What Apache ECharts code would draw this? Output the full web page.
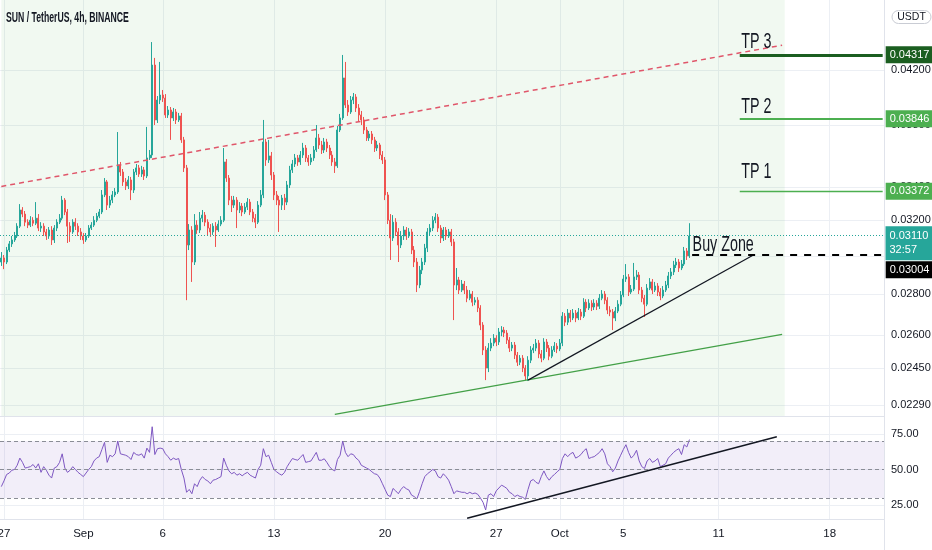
<!DOCTYPE html>
<html><head><meta charset="utf-8">
<script src="https://cdn.jsdelivr.net/npm/echarts@6/dist/echarts.min.js"></script>
<style>html,body{margin:0;padding:0;background:#fff}#chart{width:932px;height:550px}</style>
</head><body><div id="chart"></div>
<script>
// ---- time slots (4h candles) ----
const firstSlotTime = '2021-08-26T20:00:00Z';
const slotHours = 4;
const slotCount = 334;
const tickDays = ['2021-08-27','2021-09-01','2021-09-06','2021-09-13','2021-09-20','2021-09-27','2021-10-01','2021-10-05','2021-10-11','2021-10-18'];
const tickLabels = ['27','Sep','6','13','20','27','Oct','5','11','18'];

// ---- SUN / USDT 4h candles ----
const priceOpen = [
0.02967,0.02989,0.02967,0.03032,0.03066,0.03088,0.03110,0.03166,0.03260,0.03236,
0.03189,0.03172,0.03200,0.03183,0.03212,0.03155,0.03166,0.03133,0.03110,0.03144,
0.03088,0.03155,0.03189,0.03212,0.03319,0.03248,0.03166,0.03133,0.03189,0.03166,
0.03133,0.03110,0.03088,0.03110,0.03155,0.03172,0.03200,0.03224,0.03248,0.03350,
0.03430,0.03289,0.03319,0.03350,0.03368,0.03537,0.03492,0.03430,0.03405,0.03442,
0.03380,0.03492,0.03518,0.03479,0.03505,0.03467,0.03582,0.03601,0.04238,0.03837,
0.03978,0.04014,0.03992,0.03872,0.03907,0.03851,0.03893,0.03837,0.03865,0.03701,
0.03518,0.03060,0.03144,0.02967,0.03172,0.03144,0.03212,0.03230,0.03189,0.03155,
0.03133,0.03166,0.03144,0.03178,0.03200,0.03556,0.03454,0.03319,0.03289,0.03319,
0.03260,0.03283,0.03248,0.03277,0.03307,0.03248,0.03212,0.03189,0.03289,0.03350,
0.03687,0.03569,0.03595,0.03473,0.03350,0.03319,0.03289,0.03331,0.03307,0.03411,
0.03505,0.03543,0.03582,0.03556,0.03601,0.03647,0.03582,0.03556,0.03582,0.03634,
0.03714,0.03667,0.03634,0.03687,0.03647,0.03601,0.03556,0.03531,0.03768,0.03851,
0.04140,0.03942,0.03893,0.03978,0.04000,0.03921,0.03872,0.03837,0.03768,0.03714,
0.03741,0.03701,0.03647,0.03667,0.03601,0.03569,0.03350,0.03200,0.03099,0.03189,
0.03133,0.03060,0.03110,0.03144,0.03110,0.03133,0.03032,0.02967,0.02846,0.02924,
0.02967,0.03043,0.03133,0.03155,0.03200,0.03218,0.03155,0.03099,0.03144,0.03110,
0.03133,0.03077,0.02846,0.02872,0.02820,0.02851,0.02820,0.02779,0.02800,0.02759,
0.02769,0.02730,0.02647,0.02530,0.02449,0.02539,0.02562,0.02585,0.02567,0.02614,
0.02623,0.02609,0.02576,0.02539,0.02553,0.02507,0.02475,0.02493,0.02449,0.02414,
0.02484,0.02530,0.02539,0.02562,0.02512,0.02493,0.02567,0.02539,0.02502,0.02530,
0.02548,0.02535,0.02562,0.02690,0.02661,0.02705,0.02681,0.02705,0.02681,0.02710,
0.02690,0.02759,0.02730,0.02754,0.02735,0.02754,0.02739,0.02779,0.02800,0.02769,
0.02720,0.02710,0.02681,0.02715,0.02749,0.02795,0.02877,0.02888,0.02810,0.02825,
0.02888,0.02898,0.02820,0.02779,0.02749,0.02830,0.02862,0.02820,0.02841,0.02810,
0.02790,0.02820,0.02846,0.02893,0.02914,0.02951,0.02967,0.02935,0.02956,0.03027,
0.03000];
const priceClose = [
0.02989,0.02967,0.03032,0.03066,0.03088,0.03110,0.03166,0.03260,0.03236,0.03189,
0.03172,0.03200,0.03183,0.03212,0.03155,0.03166,0.03133,0.03110,0.03144,0.03088,
0.03155,0.03189,0.03212,0.03319,0.03248,0.03166,0.03133,0.03189,0.03166,0.03133,
0.03110,0.03088,0.03110,0.03155,0.03172,0.03200,0.03224,0.03248,0.03350,0.03430,
0.03289,0.03319,0.03350,0.03368,0.03537,0.03492,0.03430,0.03405,0.03442,0.03380,
0.03492,0.03518,0.03479,0.03505,0.03467,0.03582,0.03601,0.04238,0.03837,0.03978,
0.04014,0.03992,0.03872,0.03907,0.03851,0.03893,0.03837,0.03865,0.03701,0.03518,
0.03060,0.03144,0.02967,0.03172,0.03144,0.03212,0.03230,0.03189,0.03155,0.03133,
0.03166,0.03144,0.03178,0.03200,0.03556,0.03454,0.03319,0.03289,0.03319,0.03260,
0.03283,0.03248,0.03277,0.03307,0.03248,0.03212,0.03189,0.03289,0.03350,0.03687,
0.03569,0.03595,0.03473,0.03350,0.03319,0.03289,0.03331,0.03307,0.03411,0.03505,
0.03543,0.03582,0.03556,0.03601,0.03647,0.03582,0.03556,0.03582,0.03634,0.03714,
0.03667,0.03634,0.03687,0.03647,0.03601,0.03556,0.03531,0.03768,0.03851,0.04140,
0.03942,0.03893,0.03978,0.04000,0.03921,0.03872,0.03837,0.03768,0.03714,0.03741,
0.03701,0.03647,0.03667,0.03601,0.03569,0.03350,0.03200,0.03099,0.03189,0.03133,
0.03060,0.03110,0.03144,0.03110,0.03133,0.03032,0.02967,0.02846,0.02924,0.02967,
0.03043,0.03133,0.03155,0.03200,0.03218,0.03155,0.03099,0.03144,0.03110,0.03133,
0.03077,0.02846,0.02872,0.02820,0.02851,0.02820,0.02779,0.02800,0.02759,0.02769,
0.02730,0.02647,0.02530,0.02449,0.02539,0.02562,0.02585,0.02567,0.02614,0.02623,
0.02609,0.02576,0.02539,0.02553,0.02507,0.02475,0.02493,0.02449,0.02414,0.02484,
0.02530,0.02539,0.02562,0.02512,0.02493,0.02567,0.02539,0.02502,0.02530,0.02548,
0.02535,0.02562,0.02690,0.02661,0.02705,0.02681,0.02705,0.02681,0.02710,0.02690,
0.02759,0.02730,0.02754,0.02735,0.02754,0.02739,0.02779,0.02800,0.02769,0.02720,
0.02710,0.02681,0.02715,0.02749,0.02795,0.02877,0.02888,0.02810,0.02825,0.02888,
0.02898,0.02820,0.02779,0.02749,0.02830,0.02862,0.02820,0.02841,0.02810,0.02790,
0.02820,0.02846,0.02893,0.02914,0.02951,0.02967,0.02935,0.02956,0.03027,0.03000,
0.03110];
const priceLow = [
0.02946,0.02929,0.02956,0.03021,0.03049,0.03077,0.03099,0.03155,0.03218,0.03166,
0.03155,0.03161,0.03166,0.03172,0.03138,0.03133,0.03110,0.03088,0.03094,0.03060,
0.03071,0.03138,0.03178,0.03200,0.03230,0.03071,0.03077,0.03122,0.03144,0.03110,
0.03088,0.03066,0.03077,0.03099,0.03144,0.03161,0.03189,0.03212,0.03236,0.03337,
0.03260,0.03272,0.03301,0.03337,0.03356,0.03467,0.03405,0.03380,0.03386,0.03319,
0.03362,0.03473,0.03461,0.03461,0.03442,0.03454,0.03569,0.03582,0.03802,0.03816,
0.03949,0.03964,0.03851,0.03851,0.03701,0.03830,0.03809,0.03823,0.03681,0.03492,
0.02769,0.03032,0.02862,0.02951,0.03122,0.03127,0.03189,0.03166,0.03110,0.03105,
0.03116,0.03049,0.03133,0.03166,0.03189,0.03430,0.03289,0.03248,0.03272,0.03155,
0.03242,0.03224,0.03236,0.03260,0.03230,0.03189,0.03155,0.03178,0.03277,0.03331,
0.03531,0.03550,0.03442,0.03319,0.03289,0.03133,0.03260,0.03260,0.03289,0.03392,
0.03486,0.03524,0.03531,0.03537,0.03582,0.03556,0.03531,0.03537,0.03563,0.03621,
0.03641,0.03608,0.03614,0.03621,0.03575,0.03531,0.03486,0.03518,0.03754,0.03837,
0.03921,0.03865,0.03879,0.03949,0.03893,0.03823,0.03802,0.03741,0.03694,0.03694,
0.03674,0.03621,0.03627,0.03575,0.03543,0.03319,0.03178,0.02978,0.03082,0.03110,
0.02967,0.03043,0.03088,0.03088,0.03099,0.03010,0.02940,0.02810,0.02830,0.02903,
0.02951,0.03021,0.03110,0.03138,0.03183,0.03133,0.03071,0.03082,0.03088,0.03099,
0.03054,0.02671,0.02820,0.02800,0.02810,0.02800,0.02759,0.02769,0.02739,0.02744,
0.02710,0.02623,0.02507,0.02396,0.02431,0.02525,0.02548,0.02548,0.02553,0.02594,
0.02590,0.02558,0.02521,0.02525,0.02489,0.02458,0.02462,0.02431,0.02396,0.02392,
0.02471,0.02516,0.02525,0.02493,0.02475,0.02484,0.02521,0.02484,0.02493,0.02521,
0.02516,0.02525,0.02548,0.02642,0.02647,0.02661,0.02671,0.02661,0.02671,0.02671,
0.02681,0.02710,0.02720,0.02715,0.02720,0.02720,0.02725,0.02769,0.02749,0.02700,
0.02690,0.02623,0.02666,0.02705,0.02739,0.02784,0.02862,0.02790,0.02800,0.02815,
0.02872,0.02800,0.02759,0.02686,0.02739,0.02820,0.02800,0.02810,0.02790,0.02769,
0.02779,0.02810,0.02830,0.02877,0.02898,0.02935,0.02914,0.02924,0.02946,0.02978,
0.02989];
const priceHigh = [
0.03021,0.03005,0.03049,0.03082,0.03110,0.03133,0.03183,0.03295,0.03277,0.03254,
0.03206,0.03224,0.03218,0.03307,0.03236,0.03189,0.03183,0.03150,0.03161,0.03166,
0.03172,0.03206,0.03236,0.03344,0.03331,0.03266,0.03189,0.03206,0.03212,0.03183,
0.03155,0.03127,0.03127,0.03172,0.03189,0.03224,0.03242,0.03266,0.03380,0.03454,
0.03442,0.03344,0.03374,0.03392,0.03754,0.03556,0.03511,0.03454,0.03467,0.03461,
0.03511,0.03543,0.03537,0.03531,0.03524,0.03789,0.03634,0.04418,0.04293,0.04007,
0.04262,0.04051,0.04021,0.03935,0.03928,0.03921,0.03914,0.03886,0.03886,0.03721,
0.03537,0.03178,0.03166,0.03236,0.03200,0.03248,0.03260,0.03248,0.03206,0.03178,
0.03183,0.03189,0.03200,0.03224,0.03647,0.03575,0.03473,0.03344,0.03344,0.03337,
0.03307,0.03301,0.03301,0.03331,0.03325,0.03266,0.03236,0.03313,0.03380,0.03837,
0.03708,0.03701,0.03621,0.03492,0.03374,0.03344,0.03350,0.03356,0.03436,0.03531,
0.03569,0.03608,0.03601,0.03627,0.03681,0.03667,0.03601,0.03608,0.03660,0.03802,
0.03741,0.03694,0.03714,0.03708,0.03667,0.03627,0.03582,0.03795,0.03879,0.04316,
0.04262,0.03978,0.04007,0.04029,0.04021,0.03949,0.03900,0.03858,0.03789,0.03761,
0.03761,0.03721,0.03694,0.03681,0.03627,0.03588,0.03368,0.03236,0.03230,0.03212,
0.03155,0.03138,0.03166,0.03161,0.03155,0.03150,0.03054,0.02989,0.02946,0.02989,
0.03066,0.03155,0.03178,0.03224,0.03242,0.03236,0.03172,0.03161,0.03161,0.03150,
0.03150,0.03094,0.02935,0.02888,0.02872,0.02867,0.02841,0.02820,0.02815,0.02784,
0.02784,0.02744,0.02661,0.02548,0.02562,0.02585,0.02604,0.02599,0.02633,0.02642,
0.02638,0.02623,0.02590,0.02567,0.02567,0.02521,0.02507,0.02507,0.02462,0.02502,
0.02548,0.02558,0.02581,0.02576,0.02530,0.02585,0.02581,0.02553,0.02548,0.02567,
0.02562,0.02581,0.02710,0.02705,0.02725,0.02720,0.02725,0.02720,0.02730,0.02725,
0.02779,0.02774,0.02774,0.02769,0.02774,0.02769,0.02800,0.02820,0.02815,0.02784,
0.02739,0.02725,0.02735,0.02769,0.02815,0.02898,0.02956,0.02903,0.02846,0.02962,
0.02924,0.02914,0.02836,0.02795,0.02851,0.02882,0.02877,0.02862,0.02856,0.02830,
0.02841,0.02867,0.02914,0.02935,0.02973,0.02989,0.02983,0.02978,0.03049,0.03043,
0.03183];

// ---- RSI (14) ----
const rsiValues = [
38,42,46.5,47.5,49.5,50,53,58,55,51,
51.5,52,53.5,51,54,48,52,49.5,46,44,
51,52,55,61,51,48,49.5,52,50,48,
46.5,45,47.5,50,52,56,58,59,64,69,
55,60,59,61,70,61,60.5,60,59,57,
62,60.5,60,61,58,65,62,80,60.5,64.6,
65,64.6,61,59,56.5,58,57,57.7,50,44,
34,36,33,40,38,42.5,45,43,42,40,
42.5,43,44,45,58,53,49,47,48,46,
47,45.6,47,48,46,45,44,50,53,64.6,
59,60,55,50,48.4,47,46,48,52,55,
57.7,57,56.5,58.5,60.5,55,55.5,56,59,62,
56.5,56.5,57.5,55,52,50,49,57,60,70,
62,59,61,60.5,58,56.5,53,52,51,50,
48.4,47,46.5,44,40,36,32,31,36.7,35,
33,36,38,36.5,35.6,32,31,29.3,34.4,40,
45,47,48.4,50,49,45,44,47,45,42.5,
38,33,35,34.5,34,34,33,34,33,33.5,
32.6,30,27,21.6,32,33,31,35,37,39,
38,36.7,34,33,31,32,31,30.5,29,36,
42,43,41,40,45,49,45,42.5,45,46.5,
48.4,50,57.7,61,59,61,62,58,59,60.5,
63,64.6,57.7,58.5,59,60.5,62,64.6,61,54,
52,48.4,51,56,60,64,67.4,62,58,60,
63.5,56,52,50.7,56,57.7,55,56,57.7,52,
53,54,58,60,62,63.5,64.6,60.5,67.4,65.8,
71];

// ---- axes ----
const priceRange = [0.022453, 0.047675];
const priceTicks = [0.042, 0.038, 0.034, 0.032, 0.030, 0.028, 0.026, 0.0245, 0.0229];
const rsiRange = [15.26, 86.84];
const rsiTicks = [25, 50, 75];
const rsiBand = [30, 70];
const rsiLevels = [70, 50, 30];

// ---- drawings ----
const resistanceLine = [['2021-08-26 20:00', 0.03402], ['2021-10-15 00:00', 0.04393]];
const supportLine = [['2021-09-16 20:00', 0.02252], ['2021-10-15 00:00', 0.02603]];
const risingLine = [['2021-09-29 00:00', 0.02396], ['2021-10-13 04:00', 0.03004]];
const rsiTrendLine = [['2021-09-25 04:00', 15.75], ['2021-10-14 16:00', 73.0]];
const highlightRange = ['2021-08-26 20:00', '2021-10-15 04:00'];
const targetNames = ['TP 3', 'TP 2', 'TP 1'];
const targetPrices = [0.04317, 0.03846, 0.03372];
const targetStart = '2021-10-12 08:00';
const buyZoneName = 'Buy Zone';
const buyZonePrice = 0.03004;
const buyZoneStart = '2021-10-09 08:00';
const lastPrice = 0.03110;
const countdown = '32:57';
const axisEnd = '2021-10-21 08:00';

// ---- build ----
const ln = Math.log;
const slotTimes = [];
for (let k = 0; k < slotCount; k++) {
  const iso = new Date(Date.parse(firstSlotTime) + k * slotHours * 3600000).toISOString();
  slotTimes.push(iso.slice(0, 10) + ' ' + iso.slice(11, 16));
}
const tickMap = {};
tickDays.forEach((d, i) => { tickMap[d + ' 00:00'] = tickLabels[i]; });
const isTick = (idx, val) => tickMap[val] !== undefined;
const candleData = priceOpen.map((o, i) => [ln(o), ln(priceClose[i]), ln(priceLow[i]), ln(priceHigh[i])]);
const lnPt = (p) => ({ coord: [p[0], ln(p[1])] });

const FONT = "'Liberation Sans', Arial, sans-serif";
const TXT = '#131722';
const GRIDC = '#eceff4';
const tpColors = ['#1b5e20', '#4caf50', '#4caf50'];
const tpWidths = [3, 2, 1.4];

const boxLabel = (text, bg, extra) => Object.assign({
  show: true, position: 'end', formatter: text, backgroundColor: bg, color: '#fff',
  fontFamily: FONT, fontSize: 11, padding: [3, 4, 2, 4], distance: 3, lineHeight: 12
}, extra || {});

const mainLines = [
  [Object.assign(lnPt(resistanceLine[0]), { lineStyle: { color: '#e0566a', width: 1.5, type: [5, 4] }, label: { show: false } }), lnPt(resistanceLine[1])],
  [Object.assign(lnPt(supportLine[0]), { lineStyle: { color: '#43a047', width: 1.2, type: 'solid' }, label: { show: false } }), lnPt(supportLine[1])],
  [Object.assign(lnPt(risingLine[0]), { lineStyle: { color: '#131722', width: 1.2, type: 'solid' }, label: { show: false } }), lnPt(risingLine[1])]
];
targetPrices.forEach((p, i) => {
  mainLines.push([
    { coord: [targetStart, ln(p)], lineStyle: { color: tpColors[i], width: tpWidths[i], type: 'solid' }, label: boxLabel(p.toFixed(5), tpColors[i]) },
    { coord: [axisEnd, ln(p)] }
  ]);
});
mainLines.push([
  { coord: [buyZoneStart, ln(buyZonePrice)], lineStyle: { color: '#000', width: 2, type: [7, 7] }, label: boxLabel(buyZonePrice.toFixed(5), '#000', { offset: [0, 14.5] }) },
  { coord: [axisEnd, ln(buyZonePrice)] }
]);
mainLines.push({
  yAxis: ln(lastPrice), lineStyle: { color: '#26a69a', width: 1, type: [1, 2] },
  label: boxLabel(lastPrice.toFixed(5) + '\n' + countdown, '#26a69a', { distance: 1.5, lineHeight: 14, padding: [3, 4, 3, 4], offset: [0, 7.5] })
});

const rsiLines = rsiLevels.map(v => ({ yAxis: v, lineStyle: { color: '#8a8d96', width: 1, type: [4, 3] }, label: { show: false } }));
rsiLines.push([
  { coord: rsiTrendLine[0], lineStyle: { color: '#131722', width: 1.5, type: 'solid' }, label: { show: false } },
  { coord: rsiTrendLine[1] }
]);

const yLabel = { color: TXT, fontFamily: FONT, fontSize: 11, margin: 7 };

const option = {
  animation: false,
  backgroundColor: '#ffffff',
  textStyle: { fontFamily: FONT },
  grid: [
    { left: 0, right: 48, top: 0, height: 416, containLabel: false, outerBoundsMode: 'none' },
    { left: 0, right: 48, top: 417, height: 102, containLabel: false, outerBoundsMode: 'none' }
  ],
  xAxis: [
    { type: 'category', gridIndex: 0, data: slotTimes, boundaryGap: true,
      axisLine: { show: true, lineStyle: { color: '#e0e3eb' } }, axisTick: { show: false }, axisLabel: { show: false },
      splitLine: { show: true, interval: isTick, alignWithLabel: true, lineStyle: { color: GRIDC } } },
    { type: 'category', gridIndex: 1, data: slotTimes, boundaryGap: true,
      axisLine: { show: true, lineStyle: { color: '#e0e3eb' } }, axisTick: { show: false },
      axisLabel: { show: true, interval: isTick, formatter: v => tickMap[v] || '', color: TXT, fontFamily: FONT, fontSize: 11.5, margin: 9, hideOverlap: false },
      splitLine: { show: true, interval: isTick, alignWithLabel: true, lineStyle: { color: GRIDC } } }
  ],
  yAxis: [
    { type: 'value', gridIndex: 0, position: 'right', min: ln(priceRange[0]), max: ln(priceRange[1]), scale: true,
      axisLine: { show: false }, axisTick: { show: false, customValues: priceTicks.map(ln) },
      axisLabel: Object.assign({ customValues: priceTicks.map(ln), formatter: v => Math.exp(v).toFixed(5) }, yLabel),
      splitLine: { show: true, lineStyle: { color: GRIDC } } },
    { type: 'value', gridIndex: 1, position: 'right', min: rsiRange[0], max: rsiRange[1], scale: true,
      axisLine: { show: false }, axisTick: { show: false, customValues: rsiTicks },
      axisLabel: Object.assign({ customValues: rsiTicks, formatter: v => v.toFixed(2) }, yLabel),
      splitLine: { show: true, lineStyle: { color: GRIDC } } }
  ],
  series: [
    { type: 'candlestick', name: 'SUN/USDT', xAxisIndex: 0, yAxisIndex: 0, data: candleData, barWidth: 1.5,
      itemStyle: { color: '#26a69a', color0: '#ef5350', borderColor: '#26a69a', borderColor0: '#ef5350', borderWidth: 1 },
      markArea: { silent: true, itemStyle: { color: 'rgba(76,175,80,0.08)' }, data: [[{ xAxis: highlightRange[0] }, { xAxis: highlightRange[1] }]] },
      markLine: { silent: true, symbol: ['none', 'none'], animation: false, data: mainLines }
    },
    { type: 'line', name: 'RSI', xAxisIndex: 1, yAxisIndex: 1, data: rsiValues, symbol: 'none',
      lineStyle: { color: '#7e57c2', width: 1 },
      markArea: { silent: true, itemStyle: { color: 'rgba(126,87,194,0.1)' }, data: [[{ yAxis: rsiBand[0] }, { yAxis: rsiBand[1] }]] },
      markLine: { silent: true, symbol: ['none', 'none'], animation: false, data: rsiLines }
    }
  ]
};

const chart = echarts.init(document.getElementById('chart'));
chart.setOption(option);

// ---- text annotations anchored to the chart's scales ----
const toPx = (t, p) => chart.convertToPixel({ gridIndex: 0 }, [t, ln(p)]);
const SQ = 0.65;
const txt = (x, y, text, font, scale, align, fill) => ({
  type: 'text', x: x, y: y, scaleX: scale, z: 100, silent: true,
  style: { text: text, font: font, fill: fill || TXT, textAlign: align, textVerticalAlign: 'middle', align: align, verticalAlign: 'middle' }
});
const tpOffsets = [-12.5, -12, -19];
const els = [];
els.push({ type: 'line', z: 1, silent: true, shape: { x1: 884.5, y1: 0, x2: 884.5, y2: 550 }, style: { stroke: '#e0e3eb', lineWidth: 1 } });
els.push(txt(6, 18, 'SUN / TetherUS, 4h, BINANCE', 'bold 14px "Liberation Sans"', 0.62, 'left'));
els.push({ type: 'rect', z: 100, silent: true, shape: { x: 892, y: 10.5, width: 39, height: 13, r: 6.5 }, style: { fill: '#fff', stroke: '#c9ccd4', lineWidth: 1 } });
els.push(txt(911.5, 17.2, 'USDT', '10.5px "Liberation Sans"', 1, 'center'));
targetNames.forEach((n, i) => {
  const p = toPx(targetStart, targetPrices[i]);
  els.push(txt(p[0] + 1.5, p[1] + tpOffsets[i], n, '22px "Liberation Sans"', SQ, 'left'));
});
const bz = toPx(buyZoneStart, buyZonePrice);
els.push(txt(bz[0] + 0.5, bz[1] - 10.5, buyZoneName, '22px "Liberation Sans"', SQ, 'left'));
chart.setOption({ graphic: { elements: els } });
</script>
</body></html>
